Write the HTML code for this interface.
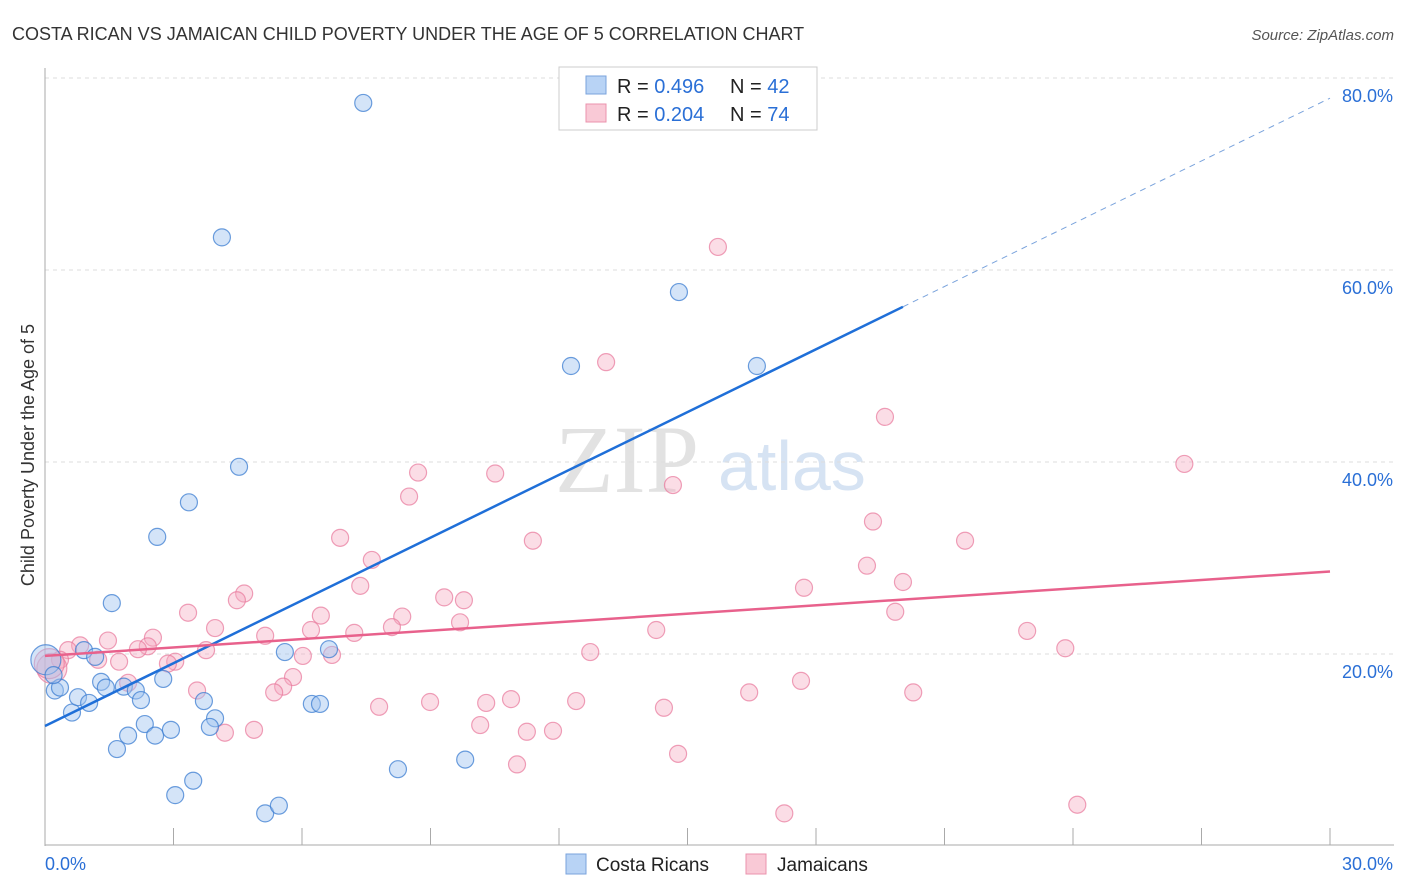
<!DOCTYPE html>
<html><head><meta charset="utf-8"><style>
body{margin:0;background:#fff;font-family:"Liberation Sans",sans-serif;}
#wrap{position:relative;width:1406px;height:892px;overflow:hidden;}
</style></head><body>
<div id="wrap">
<svg id="svg" width="1406" height="892" xmlns="http://www.w3.org/2000/svg">
<text x="12" y="40" font-size="18" fill="#333">COSTA RICAN VS JAMAICAN CHILD POVERTY UNDER THE AGE OF 5 CORRELATION CHART</text>
<text x="1394" y="40" font-size="15" fill="#555" font-style="italic" text-anchor="end">Source: ZipAtlas.com</text>
<text x="555" y="492" font-size="96" fill="#e2e2e2" font-family="Liberation Serif,serif">ZIP</text>
<text x="718" y="490" font-size="70" fill="#d6e3f3">atlas</text>
<text transform="translate(34,455) rotate(-90)" font-size="18" fill="#333" text-anchor="middle">Child Poverty Under the Age of 5</text>
<g id="grid"></g><g id="axes"></g><g id="pts"></g><g id="lines"></g>
<g>
<rect x="559" y="67" width="258" height="63" fill="#fff" stroke="#ccc"/>
<rect x="586" y="76" width="20" height="18" fill="#b8d3f5" stroke="#7aa3dc"/>
<rect x="586" y="104" width="20" height="18" fill="#f9c9d6" stroke="#eb93ad"/>
<text x="617" y="93" font-size="20" fill="#222">R = <tspan fill="#2a6fd6">0.496</tspan></text>
<text x="730" y="93" font-size="20" fill="#222">N = <tspan fill="#2a6fd6">42</tspan></text>
<text x="617" y="121" font-size="20" fill="#222">R = <tspan fill="#2a6fd6">0.204</tspan></text>
<text x="730" y="121" font-size="20" fill="#222">N = <tspan fill="#2a6fd6">74</tspan></text>
</g>
<g>
<rect x="566" y="854" width="20" height="20" fill="#b8d3f5" stroke="#7aa3dc"/>
<text x="596" y="871" font-size="19" fill="#222">Costa Ricans</text>
<rect x="746" y="854" width="20" height="20" fill="#f9c9d6" stroke="#eb93ad"/>
<text x="777" y="871" font-size="19" fill="#222">Jamaicans</text>
</g>
</svg>
</div>
<script>
const blueX=[7.43,4.13,14.8,12.28,16.62,4.53,3.36,2.62,1.56,5.6,6.63,0.91,1.17,0.02,0.23,0.35,0.63,0.77,1.03,1.31,1.42,1.84,2.12,2.24,2.76,1.68,1.94,2.33,2.57,2.94,3.71,3.97,3.85,3.46,3.04,5.14,5.46,6.23,6.42,8.24,9.81,0.2];
const blueY=[77.4,63.4,57.7,50.0,50.0,39.5,35.8,32.2,25.3,20.2,20.5,20.4,19.7,19.4,16.2,16.5,13.9,15.5,14.9,17.1,16.5,16.6,16.2,15.2,17.4,10.1,11.5,12.7,11.5,12.1,15.1,13.3,12.4,6.8,5.3,3.4,4.2,14.8,14.8,8.0,9.0,17.8];
const pinkX=[15.71,13.1,19.61,26.6,8.71,10.51,14.66,8.5,19.33,6.89,11.39,21.48,7.63,19.19,7.36,17.72,20.03,4.65,4.48,9.32,9.78,3.34,6.44,8.34,9.69,8.1,3.97,6.21,7.22,14.27,22.93,5.14,2.52,1.47,0.82,0.54,2.4,2.17,3.76,23.82,12.73,6.7,6.02,0.35,1.24,1.73,3.04,2.87,0.16,19.85,3.55,5.79,5.56,5.35,1.94,17.65,16.44,20.27,7.8,8.99,10.3,10.88,12.4,14.45,10.16,11.25,11.86,4.2,4.88,14.78,11.02,17.26,24.1,0.1];
const pinkY=[62.4,50.4,44.7,39.8,38.9,38.8,37.6,36.4,33.8,32.1,31.8,31.8,29.8,29.2,27.1,26.9,27.5,26.3,25.6,25.9,25.6,24.3,24.0,23.9,23.3,22.8,22.7,22.5,22.2,22.5,22.4,21.9,21.7,21.4,20.9,20.4,20.8,20.5,20.4,20.6,20.2,19.9,19.8,19.4,19.4,19.2,19.2,19.0,18.5,24.4,16.2,17.6,16.6,16.0,17.0,17.2,16.0,16.0,14.5,15.0,14.9,15.3,15.1,14.4,12.6,11.9,12.0,11.8,12.1,9.6,8.5,3.4,4.3,19.0];
const bigBlue=[13]; const bigPink=[48,73];
const yTicks=[20,40,60,80];
const xTickLabels=["0.0%","30.0%"];
const blueFit=[12.5,2.18];
const pinkFit=[19.8,0.293];
const blueSolidEnd=20.03;

const NS="http://www.w3.org/2000/svg";
const sx=v=>45+v/30*1285;
const sy=v=>846-v*9.6;
function mk(tag,attrs,parent){const e=document.createElementNS(NS,tag);for(const k in attrs)e.setAttribute(k,attrs[k]);document.getElementById(parent).appendChild(e);return e;}

yTicks.forEach(t=>{
  const l=mk('line',{x1:45,x2:1394,y1:sy(t),y2:sy(t),stroke:'#ddd','stroke-dasharray':'4,4'},'grid');
  
  
  const tx=mk('text',{x:1393,y:sy(t)+24,'font-size':18,fill:'#2a6fd6','text-anchor':'end'},'grid');
  tx.textContent=t.toFixed(1)+'%';
  
  
});
mk('line',{x1:45,x2:45,y1:68,y2:846,stroke:'#aaa'},'axes');
mk('line',{x1:45,x2:1394,y1:845,y2:845,stroke:'#aaa'},'axes');
for(let i=0;i<=10;i++){mk('line',{x1:sx(i*3),x2:sx(i*3),y1:828,y2:845,stroke:'#aaa'},'axes');}
[[45,'start'],[1393,'end']].forEach((p,i)=>{
  const tx=mk('text',{x:p[0],y:870,'font-size':18,fill:'#2a6fd6','text-anchor':p[1]},'axes');
  tx.textContent=xTickLabels[i];
  
  
});
function pts(X,Y,big,fill,stroke,name){
  X.forEach((x,i)=>{
    const c=mk('circle',{cx:sx(x),cy:sy(Y[i]),r:big.includes(i)?15:8.5,fill:fill,stroke:stroke,'stroke-width':1.2},'pts');
    
    
  });
}
pts(pinkX,pinkY,bigPink,'rgba(246,170,192,0.4)','rgba(232,120,155,0.7)','jamaican-point');
pts(blueX,blueY,bigBlue,'rgba(160,195,240,0.45)','rgba(60,125,210,0.75)','costa-rican-point');
const f=(fit,x)=>fit[0]+fit[1]*x;
let l1=mk('line',{x1:sx(0),y1:sy(f(blueFit,0)),x2:sx(blueSolidEnd),y2:sy(f(blueFit,blueSolidEnd)),stroke:'#1f6fd8','stroke-width':2.5},'lines');


let l2=mk('line',{x1:sx(blueSolidEnd),y1:sy(f(blueFit,blueSolidEnd)),x2:sx(30),y2:sy(f(blueFit,30)),stroke:'#7aa3dc','stroke-width':1,'stroke-dasharray':'6,5'},'lines');


let l3=mk('line',{x1:sx(0),y1:sy(f(pinkFit,0)),x2:sx(30),y2:sy(f(pinkFit,30)),stroke:'#e8618c','stroke-width':2.5},'lines');


</script>
</body></html>
